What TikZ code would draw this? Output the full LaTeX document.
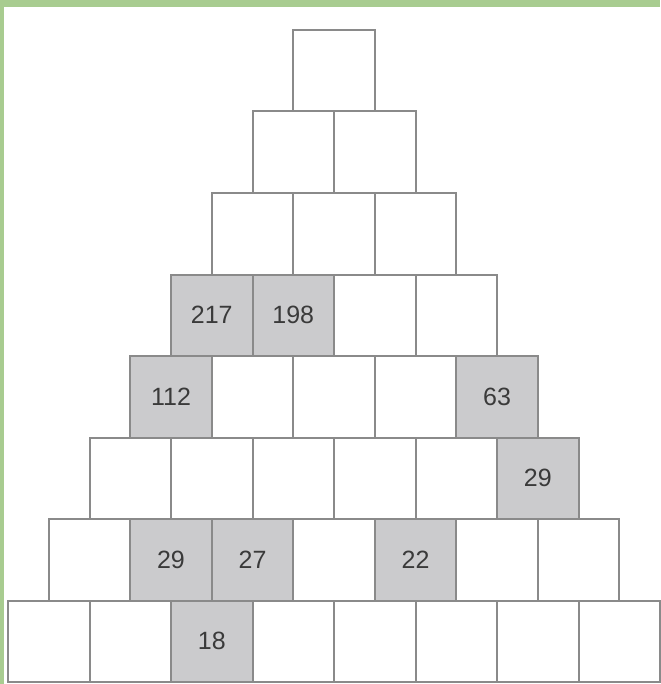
\documentclass[tikz,border=0pt]{standalone}
\usepackage{fontspec}
\setsansfont{Liberation Sans}
\usepackage{xcolor}
\definecolor{framegreen}{HTML}{A8CC90}
\definecolor{cellgray}{HTML}{CBCBCD}
\definecolor{lineg}{HTML}{8A8A8A}
\definecolor{digit}{HTML}{3A3A3A}

\tikzset{
    cell/.style={draw=lineg, line width=2pt, fill=white, minimum size=81.5pt,
        inner sep=0pt, outer sep=0pt},
    given/.style={cell, fill=cellgray, text=digit,
        font=\sffamily\fontsize{25}{25}\selectfont}
}

\begin{document}
\begin{tikzpicture}[x=1pt, y=-1pt]
    \useasboundingbox (0,0) rectangle (660,684);
    % Frame
    \fill [framegreen] (0,0) rectangle (660,7.5);
    \fill [framegreen] (0,0) rectangle (3.5,684);

    % Pyramid: row r has r cells, bottom row starts at x=8
    \foreach \r in {1,...,8}
        \foreach \i in {1,...,\r}
            \node [cell] (c-\r-\i) at ({8+(8-\r)*40.75+(\i-0.5)*81.5}, {30+(\r-0.5)*81.5}) {};

    % Given numbers
    \node [given] at (c-4-1) {217};
    \node [given] at (c-4-2) {198};
    \node [given] at (c-5-1) {112};
    \node [given] at (c-5-5) {63};
    \node [given] at (c-6-6) {29};
    \node [given] at (c-7-2) {29};
    \node [given] at (c-7-3) {27};
    \node [given] at (c-7-5) {22};
    \node [given] at (c-8-3) {18};
\end{tikzpicture}
\end{document}
